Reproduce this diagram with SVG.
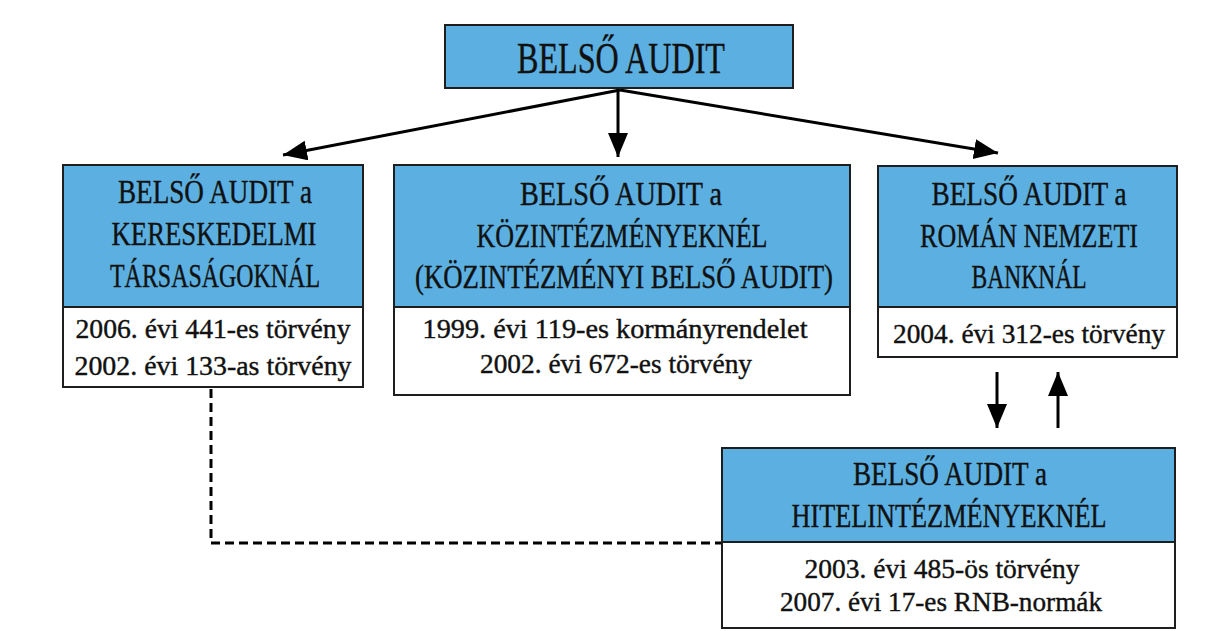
<svg xmlns="http://www.w3.org/2000/svg" width="1223" height="631" viewBox="0 0 1223 631">
<defs>
<style>
.hd{fill:#5cb0e1;stroke:#1e1e1e;stroke-width:2}
.bd{fill:#ffffff;stroke:#1e1e1e;stroke-width:2}
text{font-family:"Liberation Serif","Times New Roman",serif;fill:#111;text-anchor:middle;stroke:#111;stroke-width:0.4}
.t1{font-size:44px}
.t2{font-size:33px}
.t3{font-size:27px}
.ln{stroke:#000;stroke-width:3;fill:none}
.dash{stroke:#000;stroke-width:3;fill:none;stroke-dasharray:9 5}
</style>
<marker id="ah" markerUnits="userSpaceOnUse" markerWidth="26" markerHeight="22" refX="24" refY="10" orient="auto">
<path d="M0,0 L24,10 L0,20 z" fill="#000"/>
</marker>
</defs>
<rect width="1223" height="631" fill="#ffffff"/>
<g id="connectors">
<line class="ln" x1="620" y1="90" x2="283" y2="155" marker-end="url(#ah)"/>
<line class="ln" x1="618" y1="89" x2="618" y2="157" marker-end="url(#ah)"/>
<line class="ln" x1="620" y1="90" x2="998" y2="153" marker-end="url(#ah)"/>
<line class="ln" x1="997" y1="372" x2="997" y2="428" marker-end="url(#ah)"/>
<line class="ln" x1="1058" y1="428" x2="1058" y2="372" marker-end="url(#ah)"/>
<polyline class="dash" points="211,389 211,543 722,543"/>
</g>
<g id="node-top">
<rect class="hd" x="445" y="25" width="348" height="63"/>
<text class="t1" x="621" y="73" textLength="208" lengthAdjust="spacingAndGlyphs">BELSŐ AUDIT</text>
</g>
<g id="node-kereskedelmi">
<rect class="hd" x="63" y="165" width="300" height="142"/>
<rect class="bd" x="63" y="307" width="300" height="80"/>
<text class="t2" x="215" y="203" textLength="194" lengthAdjust="spacingAndGlyphs">BELSŐ AUDIT a</text>
<text class="t2" x="214" y="245" textLength="205" lengthAdjust="spacingAndGlyphs">KERESKEDELMI</text>
<text class="t2" x="215" y="287" textLength="210" lengthAdjust="spacingAndGlyphs">TÁRSASÁGOKNÁL</text>
<text class="t3" x="213" y="338" textLength="275" lengthAdjust="spacingAndGlyphs">2006. évi 441-es törvény</text>
<text class="t3" x="213" y="375" textLength="277" lengthAdjust="spacingAndGlyphs">2002. évi 133-as törvény</text>
</g>
<g id="node-kozintezmenyek">
<rect class="hd" x="394" y="165" width="456" height="142"/>
<rect class="bd" x="394" y="307" width="456" height="88"/>
<text class="t2" x="621" y="205" textLength="202" lengthAdjust="spacingAndGlyphs">BELSŐ AUDIT a</text>
<text class="t2" x="622" y="247" textLength="291" lengthAdjust="spacingAndGlyphs">KÖZINTÉZMÉNYEKNÉL</text>
<text class="t2" x="624" y="288" textLength="418" lengthAdjust="spacingAndGlyphs">(KÖZINTÉZMÉNYI BELSŐ AUDIT)</text>
<text class="t3" x="615" y="338" textLength="385" lengthAdjust="spacingAndGlyphs">1999. évi 119-es kormányrendelet</text>
<text class="t3" x="616" y="373" textLength="272" lengthAdjust="spacingAndGlyphs">2002. évi 672-es törvény</text>
</g>
<g id="node-rnb">
<rect class="hd" x="878" y="166" width="299" height="141"/>
<rect class="bd" x="878" y="307" width="299" height="50"/>
<text class="t2" x="1029" y="205" textLength="195" lengthAdjust="spacingAndGlyphs">BELSŐ AUDIT a</text>
<text class="t2" x="1029" y="247" textLength="218" lengthAdjust="spacingAndGlyphs">ROMÁN NEMZETI</text>
<text class="t2" x="1029" y="288" textLength="115" lengthAdjust="spacingAndGlyphs">BANKNÁL</text>
<text class="t3" x="1029" y="343" textLength="272" lengthAdjust="spacingAndGlyphs">2004. évi 312-es törvény</text>
</g>
<g id="node-hitelintezmenyek">
<rect class="hd" x="722" y="448" width="453" height="94"/>
<rect class="bd" x="722" y="542" width="453" height="86"/>
<text class="t2" x="950" y="485" textLength="194" lengthAdjust="spacingAndGlyphs">BELSŐ AUDIT a</text>
<text class="t2" x="949" y="527" textLength="315" lengthAdjust="spacingAndGlyphs">HITELINTÉZMÉNYEKNÉL</text>
<text class="t3" x="942" y="578" textLength="275" lengthAdjust="spacingAndGlyphs">2003. évi 485-ös törvény</text>
<text class="t3" x="941" y="611" textLength="322" lengthAdjust="spacingAndGlyphs">2007. évi 17-es RNB-normák</text>
</g>
</svg>
